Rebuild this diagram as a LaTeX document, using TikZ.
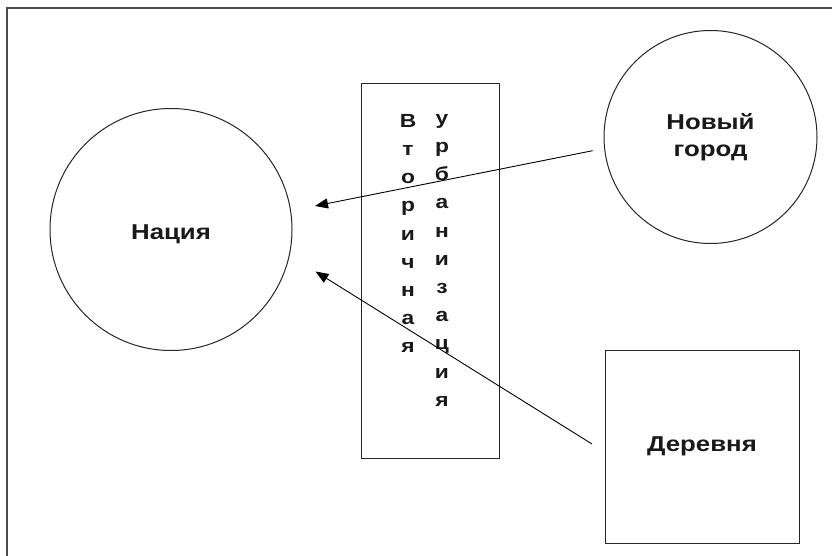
\documentclass[tikz,border=0pt]{standalone}
\usepackage{fontspec}
\setmainfont{Liberation Sans}
\newfontfamily\widesans[FakeStretch=1.2]{Liberation Sans}
\usetikzlibrary{arrows.meta}
\begin{document}
\begin{tikzpicture}[x=1pt,y=-1pt,
  frameline/.style={draw=black!70,line width=1.3pt},
  shapeline/.style={draw=black!85,line width=1pt},
  lbl/.style={font=\widesans\bfseries\fontsize{21.5}{27}\selectfont,text=black!90},
  col/.style={font=\widesans\bfseries\fontsize{19}{28.2}\selectfont,text=black!90,align=center,inner sep=0pt,anchor=north},
  arr/.style={draw=black,line width=0.9pt,-{Triangle[length=13pt,width=10pt]}}]
\useasboundingbox (0,0) rectangle (832,556);
\fill[white] (0,0) rectangle (832,556);
\coordinate (fbl) at (7,556);
\coordinate (ftl) at (7,8);
\coordinate (ftr) at (832,8);
\draw[frameline] (fbl) -- (ftl) -- (ftr);
\node[circle,shapeline,minimum size=242pt,inner sep=0pt,lbl,text height=20pt,text depth=0pt] (nation) at (171,229.5) {Нация};
\node[circle,shapeline,minimum size=213pt,inner sep=0pt,lbl,align=center] (city) at (710.5,137) {Новый\\город};
\node[rectangle,shapeline,minimum width=194pt,minimum height=193pt,inner sep=0pt,lbl] (village) at (702,446.5) {Деревня};
\node[rectangle,shapeline,minimum width=138pt,minimum height=374pt,inner sep=0pt] (urb) at (430,271) {};
\node[col] (colA) at (408,114) {В\\т\\о\\р\\и\\ч\\н\\а\\я};
\node[col] (colB) at (442,114) {у\\р\\б\\а\\н\\и\\з\\а\\ц\\и\\я};
\coordinate (s1) at (592.7,150.7);
\coordinate (t1) at (315,206);
\coordinate (s2) at (592,444);
\coordinate (t2) at (315.5,271.5);
\draw[arr] (s1) -- (t1);
\draw[arr] (s2) -- (t2);
\end{tikzpicture}
\end{document}
